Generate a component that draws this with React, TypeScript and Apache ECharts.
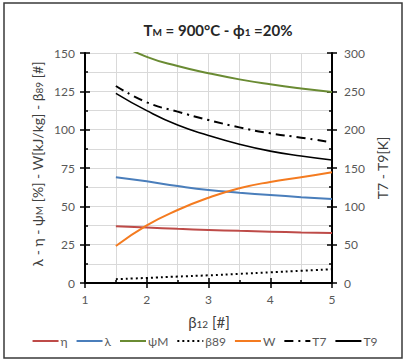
import React, { useEffect, useRef } from "react";
import * as echarts from "echarts";

const betaX = [1.5, 2, 2.5, 3, 3.5, 4, 4.5, 5];
const eta = [37, 36.2, 35.3, 34.6, 34, 33.5, 33, 32.6];
const lambda = [69, 66.3, 63.2, 60.6, 58.9, 57.4, 56, 54.8];
const psiM = [157, 147.5, 141.5, 136.8, 132.8, 129.6, 126.9, 124.6];
const beta89 = [2.5, 3.3, 4.2, 5, 6, 7, 8, 9];
const W = [24.1, 37.6, 47.6, 55.6, 61.8, 65.9, 68.9, 72.2];
const T7 = [257, 235.7, 223.5, 212.6, 203, 195.2, 189.6, 183.5];
const T9 = [247.4, 224.8, 206, 192.5, 181, 172, 165.6, 160.4];

const leftTicks = { min: 0, max: 150, interval: 25 };
const rightTicks = { min: 0, max: 300, interval: 50 };
const xTicks = { min: 1, max: 5, interval: 1 };

const FONT = "Lato";
const TXT = "#595959";

function pairs(ys: number[]) {
  return betaX.map((x, i) => [x, ys[i]]);
}

export default function App() {
  const ref = useRef<HTMLDivElement>(null);
  useEffect(() => {
    const chart = echarts.init(ref.current!, undefined, { renderer: "svg" });
    const axisLine = { show: true, lineStyle: { color: "#000", width: 2 } };
    const tickOut = { show: true, inside: false, length: 5, lineStyle: { color: "#000", width: 1.5 } };
    const tickIn = { show: true, inside: true, length: 5, lineStyle: { color: "#000", width: 1.5 } };
    const minorIn = { show: true, splitNumber: 2, length: 3, lineStyle: { color: "#000", width: 1.5 } };
    const grid = { color: "#d9d9d9", width: 1 };
    const label = { color: TXT, fontFamily: FONT, fontSize: 12 };

    const line = (name: string, ys: number[], color: string, yi: number, width: number, type: any) => ({
      name,
      type: "line",
      yAxisIndex: yi,
      data: pairs(ys),
      smooth: true,
      symbol: "none",
      showSymbol: false,
      lineStyle: { color, width, type },
      itemStyle: { color },
    });

    chart.setOption({
      animation: false,
      grid: { left: 85, right: 77, top: 53, bottom: 77, containLabel: false },
      xAxis: [
        {
          type: "value",
          position: "bottom",
          ...xTicks,
          axisLine,
          axisTick: tickOut,
          minorTick: { show: false, splitNumber: 2 },
          axisLabel: { ...label, margin: 10 },
          splitLine: { show: true, lineStyle: grid },
          minorSplitLine: { show: true, lineStyle: grid },
        },
        {
          type: "value",
          position: "bottom",
          ...xTicks,
          axisLine: { show: false },
          axisTick: tickIn,
          minorTick: minorIn,
          axisLabel: { show: false },
          splitLine: { show: false },
        },
      ],
      yAxis: [
        {
          type: "value",
          position: "left",
          ...leftTicks,
          axisLine,
          axisTick: tickOut,
          minorTick: { show: false, splitNumber: 2 },
          axisLabel: { ...label, margin: 10 },
          splitLine: { show: true, lineStyle: grid },
          minorSplitLine: { show: true, lineStyle: grid },
        },
        {
          type: "value",
          position: "left",
          ...leftTicks,
          axisLine: { show: false },
          axisTick: tickIn,
          minorTick: minorIn,
          axisLabel: { show: false },
          splitLine: { show: false },
        },
        {
          type: "value",
          position: "right",
          ...rightTicks,
          axisLine,
          axisTick: tickOut,
          minorTick: { show: false, splitNumber: 2 },
          axisLabel: { ...label, margin: 12 },
          splitLine: { show: false },
        },
        {
          type: "value",
          position: "right",
          ...rightTicks,
          axisLine: { show: false },
          axisTick: tickIn,
          minorTick: minorIn,
          axisLabel: { show: false },
          splitLine: { show: false },
        },
      ],
      legend: {
        bottom: 8,
        left: "center",
        itemWidth: 26,
        itemHeight: 10,
        itemGap: 8,
        itemStyle: { opacity: 0 },
        textStyle: { color: TXT, fontFamily: FONT, fontSize: 12, padding: [0, 0, 0, -3] },
        data: ["η", "λ", "ψM", "β89", "W", "T7", "T9"],
      },
      series: [
        line("η", eta, "#be4b48", 0, 2, "solid"),
        line("λ", lambda, "#4a7ebb", 0, 2, "solid"),
        line("ψM", psiM, "#6a8b33", 0, 2, "solid"),
        line("β89", beta89, "#000000", 0, 2, [2, 3]),
        line("W", W, "#f47b20", 0, 2, "solid"),
        line("T7", T7, "#000000", 2, 2, [9, 5, 2, 5]),
        line("T9", T9, "#000000", 2, 1.6, "solid"),
      ],
      graphic: [
        {
          type: "rect",
          shape: { x: 4, y: 3, width: 398, height: 355 },
          style: { fill: "none", stroke: "#3a3a3a", lineWidth: 1.5 },
          z: -1,
        },
        {
          type: "text",
          x: 218,
          y: 28,
          style: {
            text: "{n|T}{s|M}{n| = 900°C - ϕ}{s|1}{n| =20%}",
            align: "center",
            verticalAlign: "middle",
            rich: {
              n: { fontFamily: FONT, fontSize: 15, fontWeight: "bold", fill: "#262626", verticalAlign: "bottom", lineHeight: 18 },
              s: { fontFamily: FONT, fontSize: 10, fontWeight: "bold", fill: "#262626", verticalAlign: "bottom", lineHeight: 18 },
            },
          },
        },
        {
          type: "text",
          x: 36,
          y: 164,
          rotation: Math.PI / 2,
          style: {
            text: "{n|λ - η - ψ}{s|M}{n| [%] - W[kJ/kg] - β}{s|89}{n| [#]}",
            align: "center",
            verticalAlign: "middle",
            rich: {
              n: { fontFamily: FONT, fontSize: 14, fill: "#404040", verticalAlign: "bottom", lineHeight: 16 },
              s: { fontFamily: FONT, fontSize: 10, fill: "#404040", verticalAlign: "bottom", lineHeight: 16 },
            },
          },
        },
        {
          type: "text",
          x: 382,
          y: 168,
          rotation: Math.PI / 2,
          style: {
            text: "T7 - T9[K]",
            align: "center",
            verticalAlign: "middle",
            fontFamily: FONT,
            fontSize: 14,
            fill: "#404040",
          },
        },
        {
          type: "text",
          x: 209,
          y: 320,
          style: {
            text: "{n|β}{s|12}{n| [#]}",
            align: "center",
            verticalAlign: "middle",
            rich: {
              n: { fontFamily: FONT, fontSize: 15, fill: "#404040", verticalAlign: "bottom", lineHeight: 18 },
              s: { fontFamily: FONT, fontSize: 10, fill: "#404040", verticalAlign: "bottom", lineHeight: 18 },
            },
          },
        },
      ],
    });
    return () => chart.dispose();
  }, []);
  return (
    <div
      ref={ref}
      style={{ position: "fixed", left: 0, top: 0, width: 409, height: 360, background: "#fff" }}
    />
  );
}
